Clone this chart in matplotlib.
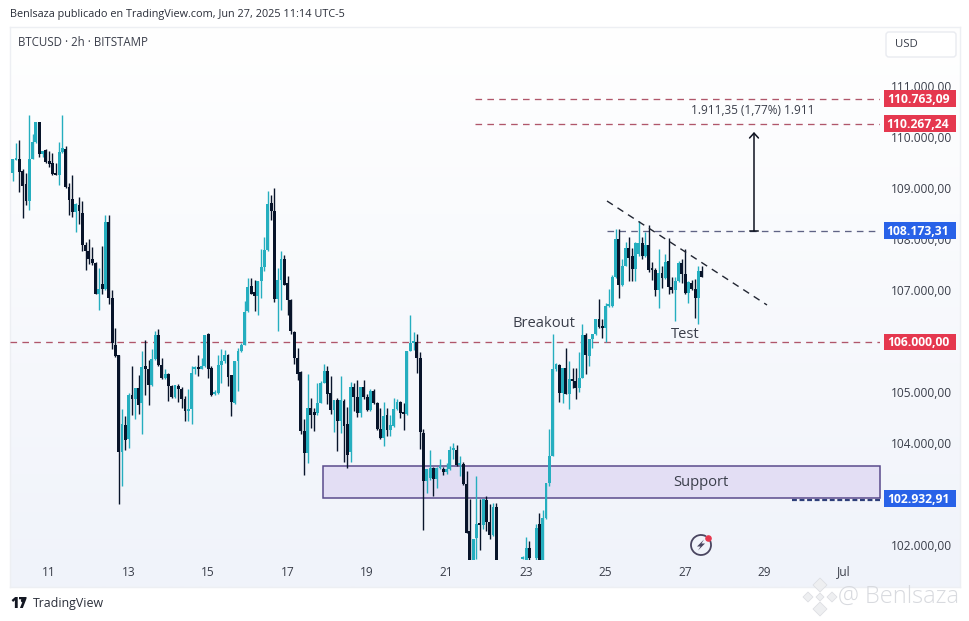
import matplotlib
matplotlib.use("Agg")
import matplotlib.pyplot as plt
import matplotlib.dates as mdates
from matplotlib.patches import Rectangle, FancyBboxPatch, Circle, Arc, Polygon
from matplotlib.transforms import ScaledTranslation
import numpy as np
import pandas as pd

NA = float("nan")
plt.rcParams["font.family"] = ["Open Sans", "DejaVu Sans"]

# ---------- data ----------
opens = [
109311,109559,109585,109337,109096,108756,109585,109911,110309,109670,
109755,109533,109494,109298,109265,109722,109781,109037,108802,108541,
108685,108528,107902,107778,107628,107537,106943,107126,107028,108345,
106865,105945,105736,103845,104366,104092,104954,104875,105104,104797,
105528,105462,105149,105658,106128,105554,105293,105365,105136,104927,
105136,105084,104875,104647,104693,105475,105488,105475,105528,106154,
105495,104973,104993,105554,105625,105736,105345,
104797,105625,105821,105951,106603,107093,106975,106897,107191,107471,
107797,108723,108573,106845,107210,107628,107158,106819,106205,105690,
105410,104255,103818,104712,104594,104614,104810,105201,105442,105005,
104679,104862,104451,104842,104386,103844,105123,104927,104614,105123,
104927,104666,105038,104810,104301,104118,104562,104275,104353,104692,
104823,104601,104594,105821,105984,105997,105690,104222,103277,103342,
103538,103322,103525,103518,103453,103505,103883,103896,103590,103603,
103224,102299,101500,102168,102429,102416,102899,102475,102214,102775,
NA,NA,NA,NA,NA,NA,NA,101744,101700,101972,
NA,101777,102429,101700,102559,103244,103766,105475,105541,105006,
105495,104986,105267,105234,105103,105299,106128,105723,106049,106147,
106454,106297,106278,106702,106702,107276,108006,107106,107497,107843,
107680,107432,107713,107941,107680,107889,107419,107406,107015,107354,
107250,107589,107080,107015,107191,107537,107328,106950,107158,107041,
106858,107380]

highs = [
109572,109898,109950,109376,109298,110433,110061,110309,110309,109735,
109781,109735,109689,109494,109917,110433,109833,109115,109272,108711,
108841,108756,107954,108019,107863,107563,107452,107876,108476,108476,
107015,106278,105736,104680,104549,105006,105528,105097,105345,105815,
106036,105645,105854,106212,106258,105691,105462,105384,105149,105149,
105169,105123,104940,105084,105528,105528,105736,105691,106128,106180,
105528,105058,105736,105854,105841,105756,105345,
105625,105886,105984,106799,107256,107256,107223,107191,107823,108058,
108952,108886,109017,107451,107778,107712,107288,106832,106212,105886,
105429,104496,105364,104907,104712,105201,105234,105579,105540,105331,
104862,104907,105344,104875,104731,105214,105188,105266,105123,105247,
104973,105071,105071,104823,104712,104823,104712,104562,104907,104875,
104842,104810,105821,106538,106192,106166,105814,104301,103505,103896,
103557,103557,103714,103557,103635,103962,104014,103975,103766,103648,
103472,102918,102135,103375,102918,102918,102996,102820,102840,102840,
NA,NA,NA,NA,NA,NA,NA,101809,102188,102103,
NA,102429,102644,102722,103244,104288,106147,105593,105560,105495,
105886,105625,105495,105495,105801,106362,106180,106049,106147,106454,
106845,106454,106754,107041,107302,108202,108202,107615,107954,108058,
107843,107954,108365,108058,108150,108280,107563,107452,107811,107497,
107713,108039,107276,107276,107582,107628,107811,107191,107223,107237,
107484,107484]

lows = [
109148,109559,108933,108430,108672,108580,109572,109898,109624,109624,
109507,109415,109259,109259,109063,109702,109017,108482,108450,108150,
108319,107778,107406,107517,107498,106930,106636,106930,107015,106747,
105867,105710,102821,103179,103884,103929,104562,104484,104582,104190,
104954,104758,105136,105645,105528,105280,105280,104843,104908,104908,
104823,104712,104451,104451,104386,105365,105332,105462,105514,105299,
104940,104954,104980,105201,105593,105136,104549,
104780,105038,105801,105938,106584,106930,106603,106538,106864,107386,
107784,108397,106780,106212,106623,107106,106538,106166,105560,105247,
104190,103388,103635,104320,104255,104581,104797,105188,104777,104594,
104236,103864,104222,103648,103538,103648,104647,104536,104536,104875,
104647,104647,104777,104275,104105,103962,104157,104170,104340,104679,
104516,104275,104581,105821,105840,105397,103909,102318,103048,103309,
102996,103146,103518,103388,103407,103492,103701,103570,103375,103211,
102253,101600,101400,101744,101927,102331,102299,102148,102201,101400,
NA,NA,NA,NA,NA,NA,NA,101744,101600,101700,
NA,101600,101600,101600,102527,103179,103766,105430,104823,104797,
104973,104692,105103,104875,105019,105286,105364,105528,105886,106128,
106278,106082,106004,106689,106689,107256,106865,107093,107484,107191,
107191,107191,107680,107615,107667,107367,107223,106897,106669,107060,
107237,106930,106963,106408,107178,107158,106930,106767,107015,106473,
106362,107263]

closes = [
109572,109585,109324,109050,108756,109572,109911,110309,109670,109735,
109520,109481,109278,109265,109722,109787,109030,108776,108541,108698,
108561,107902,107778,107634,107537,106943,107041,107028,108352,106865,
105984,105723,103845,104386,104079,104954,104875,105097,104758,105514,
105475,105149,105658,106128,105541,105293,105365,105136,104927,105149,
105084,104875,104647,104693,105397,105488,105475,105528,106128,105475,
104954,105006,105554,105625,105736,105319,104823,
105625,105821,105951,106584,107080,106949,106897,107191,107471,107797,
108710,108560,106832,107210,107628,107125,106819,106212,105690,105377,
104255,103818,104712,104562,104581,104810,105201,105442,104986,104679,
104862,104451,104862,104353,103798,105123,104927,104614,105123,104927,
104666,105038,104810,104288,104118,104549,104275,104366,104692,104823,
104601,104594,105821,105984,105997,105690,104236,103277,103505,103538,
103322,103538,103538,103453,103518,103883,103909,103590,103635,103224,
102266,101700,102135,102429,102416,102918,102475,102214,102775,101500,
NA,NA,NA,NA,NA,NA,NA,101777,101972,101777,
NA,102364,101700,102559,103244,103766,105475,105560,105006,105495,
104986,105267,105234,105103,105299,106128,105736,106049,106147,106454,
106297,106271,106702,106734,107276,108006,107106,107497,107843,107647,
107432,107941,107941,107680,107889,107406,107406,107015,107341,107250,
107563,107080,107015,107191,107550,107328,106950,107171,107041,106858,
107380,107276]

# 106.000,00 is fully hidden behind its tag in the reference, so it has no tick label
price_ticks = [102000,103000,104000,105000,107000,108000,109000,110000,111000]
price_labels = ["102.000,00","103.000,00","104.000,00","105.000,00",
                "107.000,00","108.000,00","109.000,00","110.000,00","111.000,00"]
date_ticks = ["2025-06-11","2025-06-13","2025-06-15","2025-06-17","2025-06-19","2025-06-21",
              "2025-06-23","2025-06-25","2025-06-27","2025-06-29","2025-07-01"]
date_labels = ["11","13","15","17","19","21","23","25","27","29","Jul"]
red_levels = [110763.09, 110267.24, 106000.00]
red_tags = ["110.763,09","110.267,24","106.000,00"]
blue_levels = [108173.31, 102932.91]
blue_tags = ["108.173,31","102.932,91"]
support_top, support_bottom = 103564, 102947

UP = "#25AEBF"
DOWN = "#08142A"
TXT = "#3A3E4A"

# ---------- layout ----------
W, H = 970, 621
fig = plt.figure(figsize=(W/100, H/100), dpi=100, facecolor="white")

def rect(x0, y0, x1, y1):
    return [x0/W, 1-y1/H, (x1-x0)/W, (y1-y0)/H]

bg = fig.add_axes(rect(10, 27, 960, 587), zorder=0)
grad = np.linspace(0, 1, 256)[:, None, None]
top, bot = np.array([1, 1, 1.0]), np.array([0xF0, 0xF3, 0xFA])/255
bg.imshow(top + (bot-top)*grad, aspect="auto", extent=(0, 1, 0, 1))
bg.set_xticks([]); bg.set_yticks([])
for s in bg.spines.values():
    s.set_color("#EDEFF3"); s.set_linewidth(1)

ax = fig.add_axes(rect(10, 27, 880, 560), zorder=2)
ax.patch.set_alpha(0)
for s in ax.spines.values():
    s.set_visible(False)

times = pd.date_range("2025-06-10 02:00", periods=len(opens), freq="2h")
xs = mdates.date2num(times)
PXD = 39.75            # pixels per day
def xpx(px):           # pixel column to date number
    return xs[0] + (px-12.7)/PXD
def ypx(py):           # pixel row to price
    return 106000 + (342.0-py)*19.57

ax.set_xlim(xpx(10), xpx(880))
ax.set_ylim(ypx(560), ypx(27))

o, h, l, c = map(np.array, (opens, highs, lows, closes))
ok = ~np.isnan(o)
up = c >= o
colors = np.where(up, UP, DOWN)

# ---------- overlays below candles ----------
ax.add_patch(Rectangle((xpx(323), support_bottom), xpx(880)-xpx(323), support_top-support_bottom,
                       facecolor="#E3DEF4", edgecolor="#5A4B8C", lw=1.1, zorder=1.5, clip_on=False))

ax.vlines(xs[ok], l[ok], h[ok], colors=colors[ok], lw=1.0, zorder=3)
ax.bar(xs[ok], np.maximum(np.abs(c-o), 40)[ok], bottom=np.minimum(o, c)[ok], width=2.9/PXD,
       color=colors[ok], linewidth=0, zorder=3.2)

DASH = (0, (5, 4))
ax.plot([xpx(475), xpx(880)], [red_levels[0]]*2, color="#B0566A", lw=0.95, ls=DASH, zorder=2.5)
ax.plot([xpx(475), xpx(880)], [red_levels[1]]*2, color="#B0566A", lw=0.95, ls=DASH, zorder=2.5)
ax.plot([xpx(10), xpx(880)], [red_levels[2]]*2, color="#B0566A", lw=0.95, ls=DASH, zorder=2.5)
ax.plot([xpx(607), xpx(880)], [blue_levels[0]]*2, color="#5F6385", lw=0.95, ls=DASH, zorder=2.5)
ax.plot([xpx(792), xpx(880)], [blue_levels[1]-30]*2, color="#2F3F7A", lw=1.6, ls=(0, (2.2, 1.2)), zorder=1.4)

ax.plot([xpx(607), xpx(767)], [ypx(201), ypx(305)], color="#222633", lw=1, ls=(0, (5, 4)), zorder=4)

# measured arrow
ax.annotate("", xy=(xpx(754), ypx(132)), xytext=(xpx(754), blue_levels[0]),
            arrowprops=dict(arrowstyle="->,head_length=0.35,head_width=0.32", color="#0E1220", lw=1.1,
                            shrinkA=0, shrinkB=0), zorder=5)
ax.plot([xpx(750), xpx(758)], [blue_levels[0]]*2, color="#0E1220", lw=1.1, zorder=5)

# ---------- axes ----------
ax.yaxis.tick_right()
ax.set_yticks(price_ticks, price_labels)
ax.tick_params(axis="y", length=0, pad=8.0, labelsize=8.6, labelcolor=TXT)
ax.set_xticks(mdates.date2num(pd.to_datetime(date_ticks)), date_labels)
ax.tick_params(axis="x", length=0, pad=4.0, labelsize=8.6, labelcolor=TXT)
for t in ax.get_yticklabels():
    t.set_transform(t.get_transform() + ScaledTranslation(0, 1.0/100, fig.dpi_scale_trans))

tr = ax.get_yaxis_transform()
for lev, lab, col in list(zip(red_levels, red_tags, ["#E5384F"]*3)) + list(zip(blue_levels, blue_tags, ["#2962E8"]*2)):
    ax.add_patch(Rectangle(((884-10)/870, lev-166), 72/870, 332, transform=tr, facecolor=col,
                           edgecolor="none", clip_on=False, zorder=6))
    ax.text((918-10)/870, lev-10, lab, transform=tr, color="white", fontsize=8.7, fontweight="bold",
            ha="center", va="center", clip_on=False, zorder=7)

# ---------- annotation text on the price scale ----------
ax.text(xpx(544), ypx(323.5), "Breakout", fontsize=10.6, color=TXT, ha="center", va="center", zorder=6)
ax.text(xpx(685), ypx(335), "Test", fontsize=10.6, color=TXT, ha="center", va="center", zorder=6)
ax.text(xpx(701), ypx(482.5), "Support", fontsize=10.6, color=TXT, ha="center", va="center", zorder=6)
ax.text(xpx(753), ypx(110), "1.911,35 (1,77%) 1.911", fontsize=8.5, color=TXT, ha="center", va="center", zorder=6)

# ---------- page furniture (pixel overlay) ----------
ov = fig.add_axes([0, 0, 1, 1], zorder=5)
ov.set_xlim(0, W); ov.set_ylim(H, 0); ov.axis("off"); ov.patch.set_alpha(0)

ov.text(10, 15, "Benlsaza publicado en TradingView.com, Jun 27, 2025 11:14 UTC-5",
        fontsize=7.8, color="#2A2E39", va="center", ha="left")
ov.text(18, 42, "BTCUSD · 2h · BITSTAMP", fontsize=8.3, color=TXT, va="center", ha="left")

ov.add_patch(FancyBboxPatch((886, 32), 70, 25, boxstyle="round,pad=0,rounding_size=3",
                            facecolor="white", edgecolor="#E9EBF0", lw=1))
ov.text(895, 44.5, "USD", fontsize=8.2, color=TXT, va="center", ha="left")

# lightning icon
ov.add_patch(Arc((701, 545), 20, 20, theta1=-50, theta2=300, color="#4A4560", lw=1.3))
ov.add_patch(Polygon([(704, 539.5), (697, 546.5), (700.5, 546.5), (698, 550.5), (705, 543.5), (701.5, 543.5)],
                     closed=True, facecolor="#4A4560", edgecolor="none"))
ov.add_patch(Circle((708.5, 538.5), 2.6, color="#E5384F"))

# TradingView logo
ov.text(10, 603.5, "17", fontsize=10.5, fontweight="black", color="#131722", va="center", ha="left")
ov.add_patch(Circle((23, 600.5), 1.4, color="#131722"))
ov.text(33, 603.5, "TradingView", fontsize=8.9, color="#2A2E39", va="center", ha="left")

# watermark
for dx, dy, s in [(820, 585, 7), (820, 609, 7), (808, 597, 5), (832, 597, 5), (820, 597, 4)]:
    ov.add_patch(Polygon([(dx, dy-s), (dx+s, dy), (dx, dy+s), (dx-s, dy)], closed=True,
                         facecolor="#EEEFF1", edgecolor="#DDDFE3", lw=0.6))
ov.text(838, 597, "@ Benlsaza", fontsize=17, color="#D8DADF", va="center", ha="left", fontweight="light")

fig.savefig("out.png", dpi=100, facecolor="white")
